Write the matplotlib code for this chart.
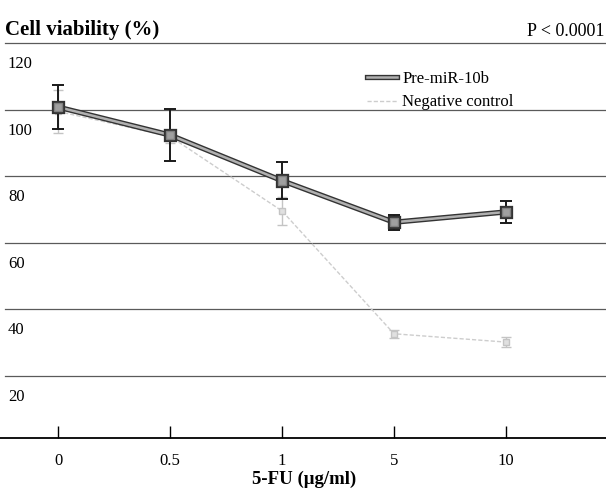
import numpy as np
import matplotlib.pyplot as plt
import matplotlib.patheffects as pe
from matplotlib.transforms import blended_transform_factory, offset_copy

plt.rcParams['font.family'] = ['Liberation Serif', 'DejaVu Serif']

# data
doses = ['0', '0.5', '1', '5', '10']
premir = [100.8, 92.4, 78.7, 66.2, 69.3]
premir_err = [6.6, 7.7, 5.5, 2.2, 3.3]
control = [99.5, 92.0, 69.6, 32.7, 30.2]
control_err = [6.5, 2.0, 4.3, 1.2, 1.6]
yticks = [120, 100, 80, 60, 40, 20]

fig = plt.figure(figsize=(6.06, 4.96), dpi=100)
ax = fig.add_axes([0, 0.117, 1, 0.798])
x = np.arange(len(doses))

# horizontal grid lines
for v in yticks:
    ax.axhline(v, xmin=0.008, xmax=1, color='#5a5a5a', lw=0.9, zorder=1)

# negative control (light gray)
ctrl = ax.errorbar(x, control, yerr=control_err, color='#cdcdcd', lw=1.0,
                   ls=(0, (3, 1.5)), marker='s', ms=4.5, mfc='#e0e0e0',
                   mec='#c4c4c4', ecolor='#c4c4c4', elinewidth=1.0,
                   capsize=3.5, zorder=2)

# pre-miR-10b (double line)
ax.errorbar(x, premir, yerr=premir_err, fmt='none', ecolor='#1a1a1a',
            elinewidth=1.4, capsize=4.5, capthick=1.4, zorder=3)
ln, = ax.plot(x, premir, color='#b0b0b0', lw=1.8, marker='s', ms=6,
              mfc='#a0a0a0', mec='#808080', zorder=4,
              path_effects=[pe.Stroke(linewidth=3.8, foreground='#333333'),
                            pe.Normal()])

ax.set_xlim(-0.518, 4.893)
ax.set_ylim(1.4, 120.3)
ax.set_xticks(x)
ax.set_xticklabels(doses, fontsize=12)
ax.tick_params(axis='x', direction='in', length=9, width=1, pad=11)
ax.set_yticks([])
for s in ['top', 'left', 'right']:
    ax.spines[s].set_visible(False)
ax.spines['bottom'].set_linewidth(1.3)

# y labels sit below each grid line
tr = blended_transform_factory(ax.transAxes, ax.transData)
tr = offset_copy(tr, fig=fig, x=0, y=-21, units='dots')
for v in yticks:
    ax.text(0.013, v, str(v), transform=tr, fontsize=12, va='center', ha='left')

fig.text(0.008, 0.94, 'Cell viability (%)', fontsize=15, fontweight='bold',
         va='center', ha='left')
fig.text(0.997, 0.937, 'P < 0.0001', fontsize=13, va='center', ha='right')
fig.text(0.502, 0.034, '5-FU (μg/ml)', fontsize=13.5, fontweight='bold',
         va='center', ha='center')

ax.legend(handles=[ln, ctrl.lines[0]],
          labels=['Pre-miR-10b', 'Negative control'],
          loc='upper left', bbox_to_anchor=(0.605, 0.857),
          bbox_transform=fig.transFigure, frameon=False, fontsize=12,
          handlelength=1.8, handletextpad=0.35, labelspacing=0.45,
          borderpad=0, borderaxespad=0, numpoints=1, markerscale=0)

fig.savefig('out.png', dpi=100)
